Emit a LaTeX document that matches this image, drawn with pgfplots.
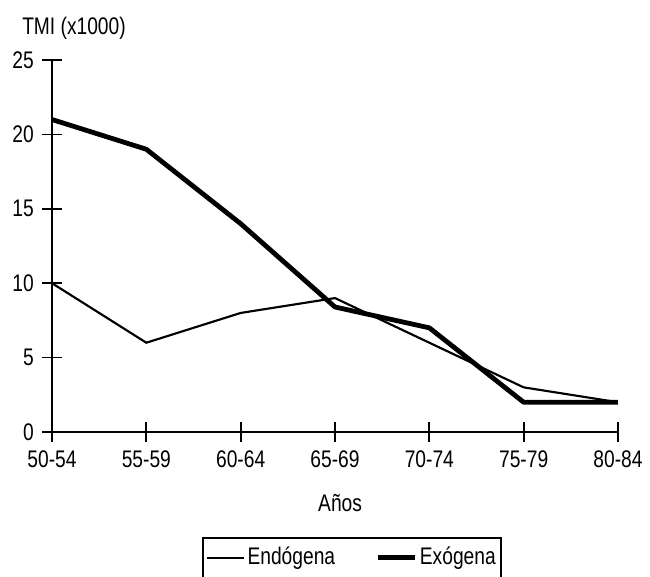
\documentclass[border=0pt]{standalone}
\usepackage{fontspec}
\setmainfont{Liberation Sans}[FakeStretch=0.8]
\usepackage{pgfplots}
\pgfplotsset{compat=1.18}
\newcommand{\chartfont}{\fontsize{18pt}{21pt}\selectfont}
\begin{document}
\chartfont
\begin{tikzpicture}
\begin{axis}[
  scale only axis,
  width=424.5pt, height=279pt,
  xmin=0, xmax=6, ymin=0, ymax=25,
  axis lines=left,
  axis line style={-, line width=1.3pt},
  every tick/.style={black, line width=1.3pt},
  tick align=center,
  major tick length=15pt,
  xtick={0,1,2,3,4,5,6},
  xticklabels={50-54,55-59,60-64,65-69,70-74,75-79,80-84},
  ytick={0,5,10,15,20,25},
  /pgf/number format/assume math mode=true,
  xticklabel style={font=\chartfont},
  yticklabel style={font=\chartfont},
  xlabel={Años},
  xlabel style={at={(axis description cs:0.509,-0.191)}, anchor=center, font=\chartfont},
  legend columns=2,
  legend image code/.code={\draw[#1] (0pt,0pt) -- (28pt,0pt);},
  legend style={at={(axis description cs:0.265,-0.282)}, anchor=north west,
    draw=black, line width=1.2pt, font=\chartfont,
    inner xsep=2pt, inner ysep=5pt,
    /tikz/every even column/.append style={column sep=28pt}},
]
\addplot[black, line width=1.6pt] coordinates {(0,10) (1,6) (2,8) (3,9) (4,6) (5,3) (6,2)};
\addlegendentry{Endógena}
\addplot[black, line width=3.6pt, line join=round] coordinates {(0,21) (1,19) (2,14) (3,8.4) (4,7) (5,2) (6,2)};
\addlegendentry{Exógena}
\end{axis}
\node[anchor=base west, inner sep=0pt] at (-22.5pt,297.75pt) {TMI (x1000)};
\pgfresetboundingbox
\path[use as bounding box] (-39pt,-108.75pt) rectangle (448.5pt,324pt);
\end{tikzpicture}
\end{document}
